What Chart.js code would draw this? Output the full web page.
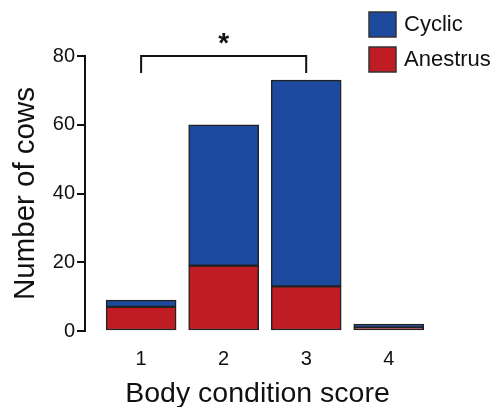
<!DOCTYPE html>
<html>
<head>
<meta charset="utf-8">
<script src="https://cdn.jsdelivr.net/npm/chart.js@4.4.0/dist/chart.umd.min.js"></script>
<style>
  html, body { margin: 0; padding: 0; background: #fff; }
  #wrap { position: relative; width: 500px; height: 407px; }
</style>
</head>
<body>
<div id="wrap"><canvas id="c" width="500" height="407"></canvas></div>
<script>
// data
const scores = [1, 2, 3, 4];
const anestrus = [7, 19, 13, 1];
const cyclic = [2, 41, 60, 1];
const yTicks = [0, 20, 40, 60, 80];

const BLUE = '#1d4a9e';
const RED = '#c01c24';
const FONT = '"Liberation Sans", Arial, sans-serif';

// significance bracket between score 1 and 3, legend at top right
const extras = {
    id: 'extras',
    afterDraw(chart) {
        const ctx = chart.ctx;
        const x = chart.scales.x, y = chart.scales.y;
        const x1 = x.getPixelForValue(1), x3 = x.getPixelForValue(3);
        const top = y.getPixelForValue(80);
        ctx.save();
        ctx.strokeStyle = '#111';
        ctx.lineWidth = 2;
        ctx.beginPath();
        ctx.moveTo(x1, top + 17);
        ctx.lineTo(x1, top);
        ctx.lineTo(x3, top);
        ctx.lineTo(x3, top + 17);
        ctx.stroke();
        ctx.fillStyle = '#111';
        ctx.font = 'bold 28px ' + FONT;
        ctx.textAlign = 'center';
        ctx.textBaseline = 'middle';
        ctx.fillText('*', (x1 + x3) / 2, top - 12);

        // legend
        const items = [['Cyclic', BLUE], ['Anestrus', RED]];
        ctx.font = '22px ' + FONT;
        ctx.textAlign = 'left';
        items.forEach((it, i) => {
            const by = 12 + i * 35;
            ctx.fillStyle = it[1];
            ctx.fillRect(369, by, 27, 25);
            ctx.lineWidth = 1.5;
            ctx.strokeStyle = '#333';
            ctx.strokeRect(369, by, 27, 25);
            ctx.fillStyle = '#111';
            ctx.fillText(it[0], 404, by + 13);
        });
        ctx.restore();
    }
};

new Chart(document.getElementById('c'), {
    type: 'bar',
    data: {
        datasets: [
            {
                label: 'Anestrus',
                data: scores.map((s, i) => ({ x: s, y: anestrus[i] })),
                backgroundColor: RED,
                borderColor: '#222',
                borderWidth: 1.5,
                borderSkipped: false,
                barThickness: 70
            },
            {
                label: 'Cyclic',
                data: scores.map((s, i) => ({ x: s, y: cyclic[i] })),
                backgroundColor: BLUE,
                borderColor: '#222',
                borderWidth: 1.5,
                borderSkipped: false,
                barThickness: 70
            }
        ]
    },
    options: {
        responsive: false,
        animation: false,
        layout: { padding: { top: 56, right: 70, left: 0, bottom: 0 } },
        plugins: { legend: { display: false }, tooltip: { enabled: false } },
        scales: {
            x: {
                type: 'linear',
                stacked: true,
                offset: false,
                min: 0.32,
                max: 4.5,
                afterBuildTicks: (s) => { s.ticks = scores.map(v => ({ value: v })); },
                afterFit: (s) => { s.height = 76; },
                grid: { display: false, drawTicks: false, offset: false },
                border: { display: false },
                ticks: { color: '#111', font: { family: FONT, size: 20 }, padding: 16 },
                title: {
                    display: true,
                    text: 'Body condition score',
                    color: '#111',
                    font: { family: FONT, size: 28.5, lineHeight: 0.9 },
                    padding: { top: 0, bottom: 0 }
                }
            },
            y: {
                stacked: true,
                min: 0,
                max: 80,
                afterBuildTicks: (s) => { s.ticks = yTicks.map(v => ({ value: v })); },
                afterFit: (s) => { s.width = 85; },
                grid: { drawOnChartArea: false, drawTicks: true, tickLength: 8, color: '#111', lineWidth: 2 },
                border: { display: true, color: '#111', width: 2 },
                ticks: { color: '#111', font: { family: FONT, size: 20 }, padding: 2 },
                title: {
                    display: true,
                    text: 'Number of cows',
                    color: '#111',
                    font: { family: FONT, size: 29.5 },
                    padding: { top: 8, bottom: 0 }
                }
            }
        }
    },
    plugins: [extras]
});
</script>
</body>
</html>
